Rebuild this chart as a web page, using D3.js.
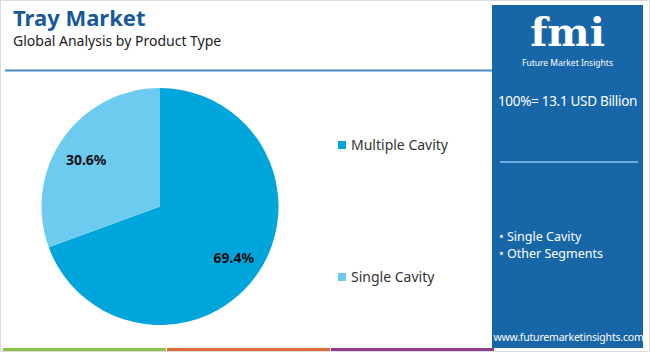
<!DOCTYPE html>
<html>
<head>
<meta charset="utf-8">
<script src="https://cdn.jsdelivr.net/npm/d3@7"></script>
<style>
  body { margin: 0; background: #fff; }
  svg { display: block; font-family: "Noto Sans", "Open Sans", sans-serif; }
</style>
</head>
<body>
<div id="chart"></div>
<script>
// data
const segments = ['Multiple Cavity', 'Single Cavity'];
const shares = [69.4, 30.6];
const sliceColors = ['#00a5dc', '#6dcbef'];
const panelItems = ['Single Cavity', 'Other Segments'];
const totalText = '100%= 13.1 USD Billion';
const stripeColors = ['#8bc34a', '#e2673a', '#8e3a8e'];

const width = 650, height = 352;

const svg = d3.select('#chart').append('svg')
    .attr('width', width).attr('height', height);

// frame
svg.append('rect')
    .attr('x', 0.5).attr('y', 0.5)
    .attr('width', width - 1).attr('height', height - 1)
    .attr('fill', '#fff').attr('stroke', '#dcdcdc');

// header
svg.append('text')
    .attr('x', 13).attr('y', 26)
    .attr('font-size', 22).attr('font-weight', 700)
    .attr('fill', '#17599a')
    .text('Tray Market');
svg.append('text')
    .attr('x', 13).attr('y', 46)
    .attr('font-size', 14)
    .attr('fill', '#222')
    .text('Global Analysis by Product Type');
svg.append('line')
    .attr('x1', 5).attr('x2', 492)
    .attr('y1', 70.5).attr('y2', 70.5)
    .attr('stroke', '#4a8ac4').attr('stroke-width', 2);

// bottom stripes
const stripeX = d3.scaleLinear().domain([0, 3]).range([3, 495]);
svg.append('g').selectAll('rect')
  .data(stripeColors)
  .enter().append('rect')
    .attr('x', (d, i) => stripeX(i))
    .attr('y', 348)
    .attr('width', (d, i) => stripeX(i + 1) - stripeX(i) - 1)
    .attr('height', 3)
    .attr('fill', d => d);

// pie
const cx = 160, cy = 206.5, radius = 118.5;
const pie = d3.pie().sort(null).value(d => d);
const arcs = pie(shares);
const arc = d3.arc().innerRadius(0).outerRadius(radius);
const labelArc = d3.arc().innerRadius(90).outerRadius(90);

const g = svg.append('g').attr('transform', `translate(${cx},${cy})`);
g.selectAll('path')
  .data(arcs)
  .enter().append('path')
    .attr('d', arc)
    .attr('fill', (d, i) => sliceColors[i]);

g.selectAll('text')
  .data(arcs)
  .enter().append('text')
    .attr('transform', d => {
      const [x, y] = labelArc.centroid(d);
      return `translate(${x},${y + (d.index === 1 ? 5 : 0)})`;
    })
    .attr('text-anchor', 'middle')
    .attr('dy', '0.35em')
    .attr('font-size', 14).attr('font-weight', 700)
    .attr('fill', '#111')
    .text(d => d.data.toFixed(1) + '%');

// legend
const legendY = d3.scalePoint().domain(segments).range([145, 277]);
const legend = svg.append('g').selectAll('g')
  .data(segments)
  .enter().append('g')
    .attr('transform', d => `translate(338,${legendY(d)})`);
legend.append('rect')
    .attr('x', 0).attr('y', -4)
    .attr('width', 8).attr('height', 8)
    .attr('fill', (d, i) => sliceColors[i]);
legend.append('text')
    .attr('x', 13).attr('y', 0).attr('dy', '0.35em')
    .attr('font-size', 14).attr('fill', '#333')
    .text(d => d);

// right panel
const px = 492, pw = 151;
const mid = px + pw / 2;
svg.append('rect')
    .attr('x', px).attr('y', 5)
    .attr('width', pw).attr('height', 343)
    .attr('fill', '#1766a8');

svg.append('text')
    .attr('x', mid).attr('y', 46)
    .attr('text-anchor', 'middle')
    .attr('font-family', 'DejaVu Serif, serif')
    .attr('font-size', 40).attr('font-weight', 700)
    .attr('fill', '#fff')
    .text('fmi');
svg.append('text')
    .attr('x', mid).attr('y', 66)
    .attr('text-anchor', 'middle')
    .attr('font-size', 8.5).attr('fill', '#fff')
    .text('Future Market Insights');

svg.append('text')
    .attr('x', mid).attr('y', 106)
    .attr('text-anchor', 'middle')
    .attr('font-size', 13.5).attr('fill', '#fff')
    .attr('letter-spacing', -0.3)
    .text(totalText);

svg.append('line')
    .attr('x1', 500).attr('x2', 638)
    .attr('y1', 162).attr('y2', 162)
    .attr('stroke', '#6aaee0').attr('stroke-width', 2);

svg.append('g').selectAll('text')
  .data(panelItems)
  .enter().append('text')
    .attr('x', 499)
    .attr('y', (d, i) => 241 + i * 17)
    .attr('font-size', 12.5).attr('fill', '#fff')
    .text(d => '\u2022 ' + d);

svg.append('text')
    .attr('x', mid + 1).attr('y', 341)
    .attr('text-anchor', 'middle')
    .attr('font-size', 10.5).attr('fill', '#fff')
    .attr('letter-spacing', -0.2)
    .text('www.futuremarketinsights.com');
</script>
</body>
</html>
